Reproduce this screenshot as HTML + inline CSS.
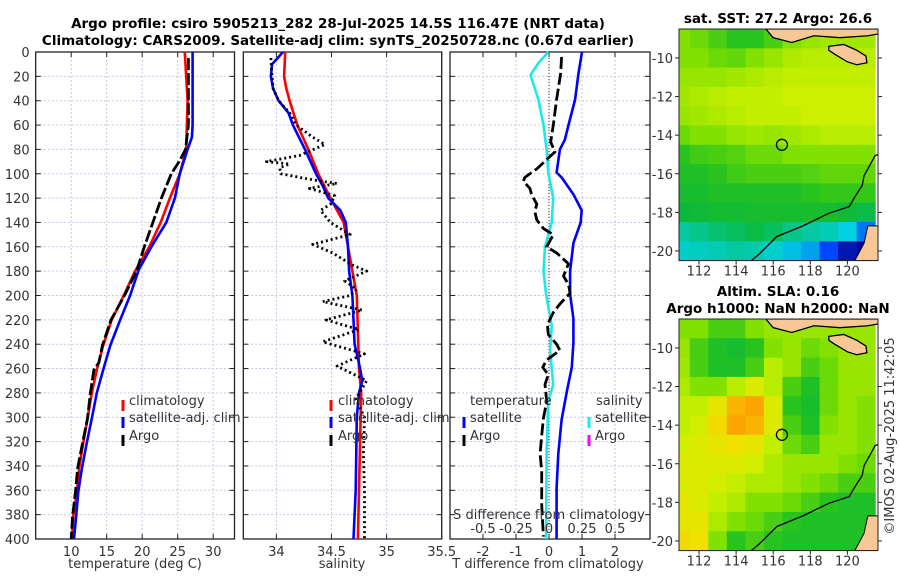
<!DOCTYPE html>
<html><head><meta charset="utf-8"><style>
body{margin:0;background:#fff}
svg{display:block;font-family:"DejaVu Sans","Liberation Sans",sans-serif}
.t{font-size:13px;fill:#333}
.b{font-weight:bold;font-size:13.5px;fill:#000}
</style></head><body>
<svg id="c" width="900" height="580" viewBox="0 0 900 580">
<text class="b" x="338" y="28" text-anchor="middle">Argo profile: csiro 5905213_282 28-Jul-2025 14.5S 116.47E (NRT data)</text>
<text class="b" x="338" y="45" text-anchor="middle">Climatology: CARS2009. Satellite-adj clim: synTS_20250728.nc (0.67d earlier)</text>
<text class="b" x="778" y="23" text-anchor="middle">sat. SST: 27.2 Argo: 26.6</text>
<text class="b" x="778" y="296" text-anchor="middle">Altim. SLA: 0.16</text>
<text class="b" x="778" y="313" text-anchor="middle">Argo h1000: NaN h2000: NaN</text>
<text class="t" x="0" y="0" transform="translate(894,436) rotate(-90)" text-anchor="middle">©IMOS 02-Aug-2025 11:42:05</text>
<g id="g"></g>
</svg>
<script>
// ---- data ----
const depthTicks=[0,20,40,60,80,100,120,140,160,180,200,220,240,260,280,300,320,340,360,380,400];
const tempTicks=[10,15,20,25,30];
const salTicks=[34,34.5,35,35.5];
const salTickLabels=["34","34.5","35","35.5"];
const dTTicks=[-2,-1,0,1,2];
const dSTicks=[-0.5,-0.25,0,0.25,0.5];
const dSTickLabels=["-0.5","-0.25","0","0.25","0.5"];
const climTd=[0,40,80,100,120,140,160,180,200,220,241,261,280,301,321,342,361,381,400];
const climT=[26.0,26.4,26.2,25.3,23.9,22.6,21.0,19.0,17.4,15.7,14.5,13.6,12.9,12.3,11.7,11.1,10.8,10.3,10.1];
const satTd=[0,20,60,70,80,100,120,140,160,179,200,220,241,261,280,301,321,342,361,381,400];
const satT=[27.1,27.1,27.1,27.0,26.4,25.3,24.6,23.4,21.3,19.5,18.3,16.9,15.5,14.5,13.6,12.9,12.2,11.5,11.0,10.7,10.4];
const argoTd=[5,60,80,90,100,120,140,160,180,200,220,241,255,261,280,301,321,342,361,381,400];
const argoT=[26.5,26.5,26.1,25.2,24.1,22.7,21.5,20.3,19.2,17.5,15.6,14.4,13.9,13.2,12.7,12.3,11.6,10.9,10.6,10.2,10.0];
const climSd=[0,20,30,40,60,80,100,120,140,160,180,200,260,280,320,360,400];
const climS=[34.08,34.07,34.09,34.12,34.19,34.29,34.38,34.49,34.61,34.65,34.69,34.73,34.75,34.77,34.76,34.75,34.74];
const satSd=[0,10,20,30,40,50,60,80,100,110,120,130,140,160,180,200,240,260,270,280,300,360,400];
const satS=[34.06,33.96,33.95,33.97,34.02,34.11,34.15,34.26,34.36,34.42,34.47,34.58,34.63,34.65,34.66,34.69,34.71,34.76,34.78,34.75,34.73,34.72,34.70];
const argoSd=[5,20,30,40,50,60,70,76,85,90,92,95,100,105,108,112,118,125,130,140,150,158,165,175,180,188,195,200,205,212,220,228,238,248,258,270,285,300,330,360,400];
const argoS=[33.95,33.96,33.97,34.02,34.12,34.18,34.33,34.44,34.21,33.91,34.12,34.03,34.04,34.33,34.55,34.30,34.53,34.49,34.40,34.49,34.67,34.33,34.51,34.69,34.82,34.62,34.73,34.67,34.42,34.78,34.45,34.75,34.42,34.80,34.55,34.82,34.72,34.80,34.79,34.80,34.80];
const dTsatD=[0,18,39,60,72,80,99,103,117,130,140,157,180,199,219,239,259,279,302,330,358,400];
const dTsat=[1.0,0.89,0.79,0.59,0.48,0.33,0.23,0.38,0.74,0.99,0.96,0.74,0.64,0.64,0.74,0.74,0.69,0.54,0.38,0.28,0.23,0.23];
const dSsatD=[0,9,19,39,60,80,99,120,140,160,180,199,225,245,273,287,330,400];
const dSsat=[-0.005,-0.08,-0.14,-0.08,-0.042,-0.018,-0.005,0.032,0.02,-0.03,-0.042,-0.022,0.02,0.008,0.032,-0.005,-0.018,-0.022];
const dTargoD=[4,18,39,60,74,82,96,103,106,112,117,125,131,138,145,150,160,165,174,184,191,198,207,214,224,232,240,245,253,259,265,273,287,301,315,330,344,358,372,398];
const dTargo=[0.38,0.35,0.23,0.13,0.05,0.18,-0.37,-0.73,-0.78,-0.58,-0.53,-0.37,-0.43,-0.37,-0.17,0.13,-0.07,0.23,0.59,0.44,0.59,0.64,0.33,0.13,-0.05,-0.02,0.23,0.33,-0.07,-0.19,-0.02,-0.12,-0.07,-0.17,-0.22,-0.27,-0.22,-0.22,-0.22,-0.17];
const sstLats=[-9,-10,-11,-12,-13,-14,-15,-16,-17,-18,-19,-20];
const mapLons=[111,112,113,114,115,116,117,118,119,120,121];
const sstVals=[
[.6,.58,.55,.52,.52,.55,.6,.62,.63,.63,.63],
[.6,.6,.58,.57,.6,.62,.64,.65,.65,.65,.65],
[.62,.62,.62,.63,.64,.65,.66,.66,.66,.66,.66],
[.63,.64,.65,.66,.66,.66,.67,.67,.67,.67,.67],
[.62,.63,.64,.65,.66,.66,.66,.67,.67,.67,.67],
[.58,.6,.6,.62,.63,.62,.63,.64,.65,.65,.65],
[.52,.54,.55,.56,.58,.58,.6,.6,.6,.6,.6],
[.5,.5,.52,.54,.55,.55,.55,.56,.57,.57,.57],
[.48,.48,.5,.5,.5,.5,.5,.52,.53,.53,.53],
[.45,.46,.47,.47,.48,.48,.48,.48,.48,.46,.44],
[.36,.38,.4,.42,.44,.42,.38,.36,.34,.3,.2],
[.32,.33,.34,.36,.35,.32,.28,.25,.15,.05,.02]];
const slaVals=[
[.6,.6,.55,.55,.6,.62,.62,.62,.62,.62,.62],
[.62,.55,.5,.48,.52,.6,.62,.58,.6,.62,.62],
[.63,.55,.5,.5,.55,.65,.62,.55,.58,.62,.62],
[.64,.6,.6,.65,.7,.65,.55,.5,.58,.62,.62],
[.66,.66,.72,.8,.82,.7,.52,.48,.58,.62,.6],
[.66,.68,.75,.82,.8,.7,.55,.5,.6,.62,.6],
[.68,.7,.72,.74,.72,.66,.58,.55,.62,.62,.6],
[.7,.7,.7,.7,.68,.64,.62,.62,.62,.6,.58],
[.7,.7,.68,.66,.64,.64,.62,.6,.58,.55,.55],
[.72,.7,.66,.64,.6,.6,.58,.55,.52,.5,.5],
[.72,.72,.64,.6,.58,.55,.52,.5,.5,.5,.5],
[.75,.74,.6,.52,.55,.52,.5,.5,.5,.5,.5]];
const latTicks=[-10,-12,-14,-16,-18,-20];
const lonTicks=[112,114,116,118,120];
const argoPos=[116.47,-14.5];
const coast=[[114.82,-20.5],[115.2,-20.2],[116.2,-19.25],[117.6,-18.7],[119.0,-18.05],[120.1,-17.7],[120.4,-17.2],[120.8,-16.6],[120.9,-16.1],[121.3,-15.4],[121.5,-15.05],[121.7,-15.0]];
const island=[[119.0,-9.4],[119.8,-9.3],[120.5,-9.6],[121.0,-9.9],[121.05,-10.25],[120.5,-10.35],[120.0,-10.2],[119.3,-9.8],[119.0,-9.6]];
const northLand=[[115.6,-8.5],[121.7,-8.5],[121.7,-8.75],[121.1,-8.85],[119.6,-8.95],[118.2,-8.85],[117.0,-9.2],[116.0,-8.95]];

// ---- helpers ----
const NS='http://www.w3.org/2000/svg';
const G=document.getElementById('g');
function el(tag,attrs,parent){const e=document.createElementNS(NS,tag);for(const k in attrs)e.setAttribute(k,attrs[k]);(parent||G).appendChild(e);return e;}
const Y0=52,Y1=539;
const yD=d=>Y0+d/400*(Y1-Y0);
function panelX(x0,x1,v0,v1){return v=>x0+(v-v0)/(v1-v0)*(x1-x0);}
const xT=panelX(35.7,234.5,5,33);
const xS=panelX(243.3,441.7,33.7,35.5);
const xDT=panelX(450,650,-3,3.06);
const xDS=v=>xDT(v*4);

function frame(x0,x1,name,xt,ticksArr,labels,showY){
  const g=el('g',{});
  
  
  ticksArr.forEach(v=>{const x=xt(v);el('line',{x1:x,x2:x,y1:Y0,y2:Y1,stroke:'#c4c8e6','stroke-width':1,'stroke-dasharray':'2,2'},g);});
  depthTicks.forEach(d=>{const y=yD(d);el('line',{x1:x0,x2:x1,y1:y,y2:y,stroke:'#c4c8e6','stroke-width':1,'stroke-dasharray':'2,2'},g);
    el('line',{x1:x0,x2:x0+5,y1:y,y2:y,stroke:'#222'},g);el('line',{x1:x1-5,x2:x1,y1:y,y2:y,stroke:'#222'},g);
    if(showY){const t=el('text',{x:x0-6,y:y+5,'text-anchor':'end',class:'t'},g);t.textContent=d;}});
  ticksArr.forEach((v,i)=>{const x=xt(v);el('line',{x1:x,x2:x,y1:Y1,y2:Y1-5,stroke:'#222'},g);el('line',{x1:x,x2:x,y1:Y0,y2:Y0+5,stroke:'#222'},g);
    if(labels){const t=el('text',{x:x,y:556,'text-anchor':'middle',class:'t'},g);t.textContent=labels[i];}});
  el('rect',{x:x0,y:Y0,width:x1-x0,height:Y1-Y0,fill:'none',stroke:'#222','stroke-width':1.3},g);
  return g;
}
function line(ds,vs,xf,attrs,name){
  const pts=ds.map((d,i)=>xf(vs[i]).toFixed(1)+','+yD(d).toFixed(1)).join(' ');
  const p=el('polyline',Object.assign({points:pts,fill:'none','stroke-linejoin':'round'},attrs));
  
  
  return p;
}
function txt(x,y,s,name,anchor,extra){const t=el('text',Object.assign({x:x,y:y,class:'t','text-anchor':anchor||'start'},extra||{}));t.textContent=s;
  
  
  return t;}
function mark(x,y,c,name){const r=el('rect',{x:x-1.5,y:y-11,width:3,height:11,fill:c});
  
  }

frame(35.7,234.5,'temperature-axes',xT,tempTicks,tempTicks.map(String),true);
line(climTd,climT,xT,{stroke:'#f00','stroke-width':2.6},'temp-climatology-line');
line(satTd,satT,xT,{stroke:'#00f','stroke-width':2.6},'temp-satellite-line');
line(argoTd,argoT,xT,{stroke:'#000','stroke-width':2.8,'stroke-dasharray':'12,3'},'temp-argo-line');
txt(135,568,'temperature (deg C)','temperature-x-axis-title','middle');
mark(123,411,'#f00','legend-marker-climatology');txt(129,405,'climatology','legend-climatology');
mark(123,428,'#00f','legend-marker-satellite');txt(129,422,'satellite-adj. clim','legend-satellite-adj');
mark(123,446,'#000','legend-marker-argo');txt(129,440,'Argo','legend-argo');

frame(243.3,441.7,'salinity-axes',xS,salTicks,salTickLabels,false);
line(climSd,climS,xS,{stroke:'#f00','stroke-width':2.6},'sal-climatology-line');
line(satSd,satS,xS,{stroke:'#00f','stroke-width':2.6},'sal-satellite-line');
line(argoSd,argoS,xS,{stroke:'#000','stroke-width':2.8,'stroke-dasharray':'2,3'},'sal-argo-line');
txt(342,568,'salinity','salinity-x-axis-title','middle');
mark(331,411,'#f00','legend2-marker-climatology');txt(338,405,'climatology','legend2-climatology');
mark(331,428,'#00f','legend2-marker-satellite');txt(338,422,'satellite-adj. clim','legend2-satellite-adj');
mark(331,446,'#000','legend2-marker-argo');txt(338,440,'Argo','legend2-argo');

frame(450,650,'difference-axes',xDT,dTTicks,dTTicks.map(String),false);
el('line',{x1:xDT(0),x2:xDT(0),y1:Y0,y2:Y1,stroke:'#333','stroke-width':1,'stroke-dasharray':'1,2'});
line(dTsatD,dTsat,xDT,{stroke:'#00f','stroke-width':2.6},'t-diff-satellite-line');
line(dSsatD,dSsat,xDS,{stroke:'#1ee8e8','stroke-width':2.6},'s-diff-satellite-line');
line(dTargoD,dTargo,xDT,{stroke:'#000','stroke-width':2.8,'stroke-dasharray':'12,4'},'t-diff-argo-line');
txt(548,568,'T difference from climatology','t-diff-x-axis-title','middle');
txt(549,519,'S difference from climatology','s-diff-axis-title','middle');
dSTicks.forEach((v,i)=>{const t=el('text',{x:xDS(v),y:533,'text-anchor':'middle',class:'t'});t.textContent=dSTickLabels[i];
  
  });
txt(470,405,'temperature','legend3-temperature-header');
mark(464,428,'#00f','legend3-marker-t-sat');txt(470,422,'satellite','legend3-t-satellite');
mark(464,446,'#000','legend3-marker-t-argo');txt(470,440,'Argo','legend3-t-argo');
txt(596,405,'salinity','legend3-salinity-header');
mark(589,428,'#1ee8e8','legend3-marker-s-sat');txt(595,422,'satellite','legend3-s-satellite');
mark(589,446,'#ff00ff','legend3-marker-s-argo');txt(595,440,'Argo','legend3-s-argo');

const stops=[[0,[0,0,140]],[0.15,[0,70,255]],[0.3,[0,210,225]],[0.45,[10,185,60]],[0.52,[40,195,30]],[0.6,[130,225,0]],[0.67,[205,240,0]],[0.74,[240,225,0]],[0.82,[250,165,0]],[0.95,[240,80,0]]];
function cmap(v){for(let i=1;i<stops.length;i++){if(v<=stops[i][0]){const a=stops[i-1],b=stops[i],f=(v-a[0])/(b[0]-a[0]);return 'rgb('+a[1].map((c,k)=>Math.round(c+f*(b[1][k]-c))).join(',')+')';}}return 'rgb(240,80,0)';}
function drawMap(top,vals,name){
  const x0=679,x1=878,lon0=110.92,lon1=121.65;
  const latTop=-8.5,pxLat=19.3;
  const bottom=top+12*pxLat;
  const X=lo=>x0+(lo-lon0)/(lon1-lon0)*(x1-x0);
  const Y=la=>top+(latTop-la)*pxLat;
  const g=el('g',{});
  
  
  const cp='clip'+name;
  const cl=el('clipPath',{id:cp},g);el('rect',{x:x0,y:top,width:x1-x0,height:bottom-top},cl);
  const cg=el('g',{'clip-path':'url(#'+cp+')'},g);
  sstLats.forEach((la,r)=>mapLons.forEach((lo,c)=>{
    const xa=X(lo-0.5),ya=Y(la+0.5);
    const cell=el('rect',{x:xa.toFixed(1),y:ya.toFixed(1),width:(X(lo+0.5)-xa+0.5).toFixed(1),height:(Y(la-0.5)-ya+0.5).toFixed(1),fill:cmap(vals[r][c])},cg);
    
    
  }));
  el('polygon',{points:[[X(121.1),Y(-18.7)],[x1,Y(-18.7)],[x1,bottom],[X(120.4),bottom],[X(120.9),Y(-19.6)]].map(p=>p.join(',')).join(' '),fill:'#f7c896',stroke:'#000','stroke-width':1},cg);
  el('polyline',{points:coast.map(p=>X(p[0])+','+Y(p[1])).join(' '),fill:'none',stroke:'#000','stroke-width':1.3},cg);
  el('polygon',{points:island.map(p=>X(p[0])+','+Y(p[1])).join(' '),fill:'#f7c896',stroke:'#000','stroke-width':1.3},cg);
  el('polygon',{points:northLand.map(p=>X(p[0])+','+Y(p[1])).join(' '),fill:'#f7c896',stroke:'#000','stroke-width':1.3},cg);
  const ac=el('circle',{cx:X(argoPos[0]),cy:Y(argoPos[1]),r:5.5,fill:'none',stroke:'#000','stroke-width':1.3},g);
  
  
  el('rect',{x:x0,y:top,width:x1-x0,height:bottom-top,fill:'none',stroke:'#222','stroke-width':1},g);
  latTicks.forEach(la=>{const y=Y(la);el('line',{x1:x0-4,x2:x0,y1:y,y2:y,stroke:'#222'},g);el('line',{x1:x1,x2:x1+4,y1:y,y2:y,stroke:'#222'},g);
    const t=el('text',{x:x0-6,y:y+5,'text-anchor':'end',class:'t'},g);t.textContent=la;});
  lonTicks.forEach(lo=>{const x=X(lo);el('line',{x1:x,x2:x,y1:bottom,y2:bottom+4,stroke:'#222'},g);
    const t=el('text',{x:x,y:bottom+15,'text-anchor':'middle',class:'t'},g);t.textContent=lo;});
}
drawMap(29,sstVals,'sst-map');
drawMap(319,slaVals,'sla-map');
</script>
</body></html>
